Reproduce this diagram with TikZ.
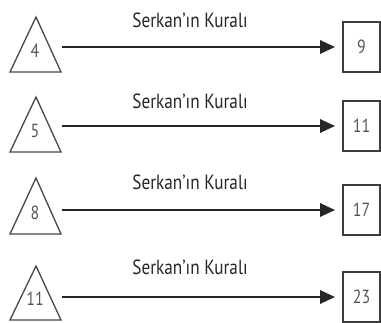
\documentclass[tikz,border=0pt]{standalone}
\usepackage{fontspec}
\setmainfont[FakeStretch=0.84]{PT Sans}
\usetikzlibrary{arrows.meta}
\definecolor{ink}{HTML}{262626}
\definecolor{numgray}{HTML}{555555}
\tikzset{
  tri/.style={draw=ink!85, line width=1.3pt, line join=miter},
  tnum/.style={text=numgray, font=\fontsize{19}{19}\selectfont, inner sep=0pt},
  box/.style={draw=ink!90, line width=1.7pt, minimum width=37pt, minimum height=50pt,
              inner sep=0pt, text=numgray, font=\fontsize{19}{19}\selectfont},
  rule/.style={text=ink, font=\fontsize{20.5}{20.5}\selectfont, inner sep=0pt},
  arr/.style={draw=ink, line width=2.8pt,
              -{Triangle[length=15pt, width=13pt]}, shorten >=7pt}
}
\begin{document}
\begin{tikzpicture}[x=1pt, y=-1pt]
\useasboundingbox (0,0) rectangle (381,322);
% one row per rule application:
% apex y, base y, arrow y, label y, input, output
\foreach \i/\ay/\by/\ry/\ly/\inp/\outp in {
    1/17/72/47/20/4/9,
    2/97/152/126/101/5/11,
    3/178/234/210/182/8/17,
    4/266/320/297/267/11/23} {
  \draw[tri] (36,\ay) -- (61,\by) -- (10,\by) -- cycle;
  \node[tnum] (in\i) at (35,{\by-21}) {\inp};
  \coordinate (s\i) at (62,\ry);
  \node[box] (out\i) at (361.5,\ry) {\outp};
  \draw[arr] (s\i) -- (out\i.west);
  \node[rule] (lab\i) at (190,\ly) {Serkan’ın Kuralı};
}
\end{tikzpicture}
\end{document}
